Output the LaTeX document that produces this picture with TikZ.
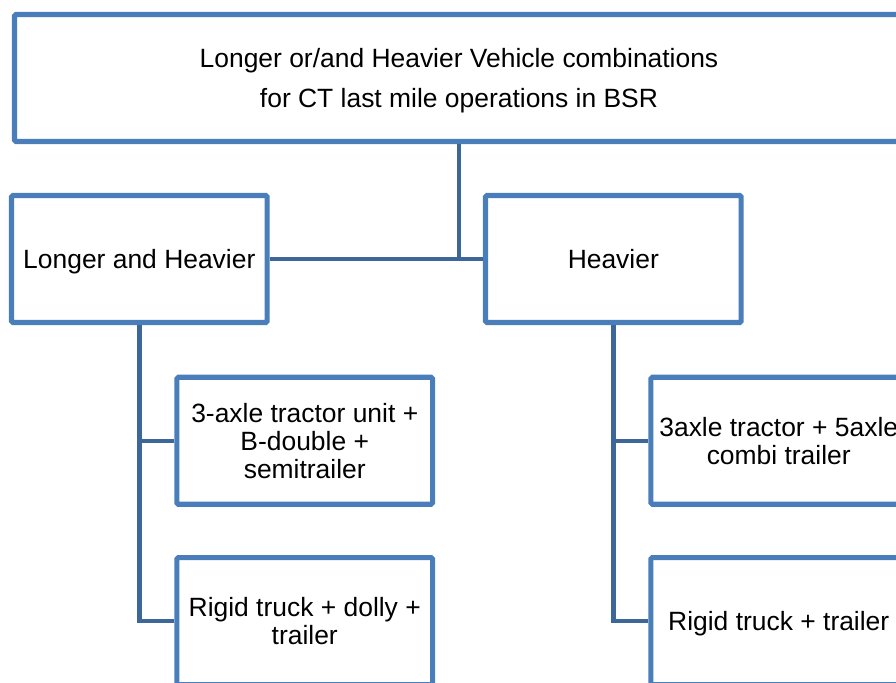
\documentclass[tikz,border=0pt]{standalone}
\usepackage{fontspec}
\setmainfont{Liberation Sans}
\usetikzlibrary{positioning}

\definecolor{boxblue}{RGB}{74,126,187}
\definecolor{linkblue}{RGB}{62,103,153}

\begin{document}
\begin{tikzpicture}[node distance=4.5cm, on grid,
    box/.style={draw=boxblue, line width=3.6pt, rounded corners=1pt, fill=white,
        align=center, inner sep=0pt, minimum width=6.39cm, minimum height=3.175cm,
        font=\fontsize{18.8}{19.9}\selectfont},
    link/.style={draw=linkblue, line width=3.2pt}]
    \useasboundingbox (0,0) rectangle (22.4,-17.05);
    \clip (0,0) rectangle (22.4,-17.05);

    % top level
    \node[box, minimum width=22.225cm, text depth=0pt, font=\fontsize{18.8}{28.45}\selectfont] (Root) at (11.475,-1.95)
        {Longer or/and Heavier Vehicle combinations\\for CT last mile operations in BSR};

    % two groups
    \node[box, text depth=0pt] (LH) at (3.4825,-6.475) {Longer and Heavier};
    \node[box, right=11.85cm of LH] (H) {Heavier};

    % vehicle combinations
    \node[box, below right=4.544cm and 4.136cm of LH] (LHa) {3-axle tractor unit +\\B-double +\\semitrailer};
    \node[box, below=4.51cm of LHa] (LHb) {Rigid truck + dolly +\\trailer};
    \node[box, right=11.85cm of LHa] (Ha) {3axle tractor + 5axle\\combi trailer};
    \node[box, text depth=0pt, right=11.85cm of LHb] (Hb) {Rigid truck + trailer};

    \path[link]
    (Root.south) -- (Root.south |- LH.east)
    (LH.east) -- (H.west)
    (LH.south) |- (LHa.west)
    (LH.south) |- (LHb.west)
    (H.south) |- (Ha.west)
    (H.south) |- (Hb.west);
\end{tikzpicture}
\end{document}
